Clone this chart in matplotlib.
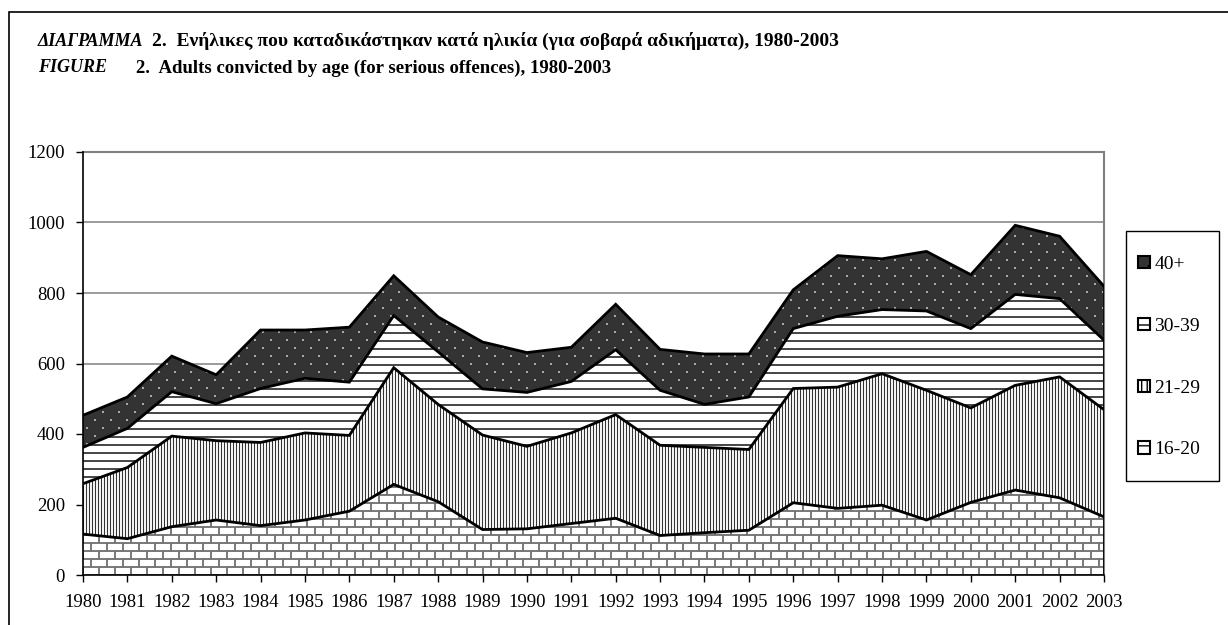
import numpy as np
import matplotlib
matplotlib.use("Agg")
import matplotlib.pyplot as plt
from matplotlib.collections import LineCollection
from matplotlib.patches import Patch, Rectangle

# data
years = list(range(1980, 2004))
age_16_20 = [116, 103, 137, 156, 140, 156, 181, 257, 208, 129, 131, 146,
             161, 112, 120, 127, 205, 189, 198, 156, 206, 241, 219, 165]
age_21_29 = [143, 202, 257, 225, 236, 247, 215, 331, 276, 268, 234, 257,
             294, 256, 242, 229, 324, 344, 373, 368, 268, 297, 343, 304]
age_30_39 = [103, 111, 126, 105, 153, 155, 151, 148, 149, 131, 153, 146,
             184, 156, 122, 149, 170, 201, 182, 225, 225, 258, 222, 197]
age_40 = [91, 89, 101, 82, 166, 137, 156, 113, 99, 133, 113, 97,
          129, 116, 143, 122, 110, 172, 144, 169, 153, 196, 177, 153]
labels = ["16-20", "21-29", "30-39", "40+"]

title_gr = "2.  Ενήλικες που καταδικάστηκαν κατά ηλικία (για σοβαρά αδικήματα), 1980-2003"
title_en = "2.  Adults convicted by age (for serious offences), 1980-2003"

plt.rcParams['font.family'] = ['Liberation Serif', 'DejaVu Serif']

W, H = 1228, 625
fig = plt.figure(figsize=(W / 100, H / 100), dpi=100)
ax = fig.add_axes([83 / W, 1 - 575 / H, (1104 - 83) / W, (575 - 152) / H])

polys = ax.stackplot(years, age_16_20, age_21_29, age_30_39, age_40,
                     colors=["white", "white", "white", "#333333"],
                     linewidth=0, zorder=2)

# pixel size of the axes, used for the fill textures
bb = ax.get_position()
axw, axh = bb.width * W, bb.height * H
px, py = 1 / axw, 1 / axh


def clip_to(artist, poly):
    artist.set_clip_path(poly.get_paths()[0], ax.transData)


# 16-20 : bricks
segs = []
rows = np.arange(0, axh + 8, 8)
for k, y in enumerate(rows):
    segs.append([(0, y * py), (1, y * py)])
    off = 0 if k % 2 == 0 else 8
    for x in np.arange(off, axw + 16, 16):
        segs.append([(x * px, y * py), (x * px, (y + 8) * py)])
lc = LineCollection(segs, colors="#6e6e6e", linewidths=1.3,
                    transform=ax.transAxes, zorder=3)
ax.add_collection(lc)
clip_to(lc, polys[0])

# 21-29 : thin vertical lines
segs = [[(x * px, 0), (x * px, 1)] for x in np.arange(0, axw, 3)]
lc = LineCollection(segs, colors="#333333", linewidths=0.8,
                    transform=ax.transAxes, zorder=3)
ax.add_collection(lc)
clip_to(lc, polys[1])

# 30-39 : horizontal lines
segs = [[(0, y * py), (1, y * py)] for y in np.arange(2, axh, 8)]
lc = LineCollection(segs, colors="#444444", linewidths=1.4,
                    transform=ax.transAxes, zorder=3)
ax.add_collection(lc)
clip_to(lc, polys[2])

# 40+ : dots on dark grey
dx, dy = [], []
for k, y in enumerate(np.arange(3, axh, 8)):
    off = 4 if k % 2 == 0 else 12
    for x in np.arange(off, axw, 16):
        dx.append(x * px)
        dy.append(y * py)
sc = ax.scatter(dx, dy, s=2.4, marker="s", color="#a8a8a8", linewidths=0,
                transform=ax.transAxes, zorder=3)
clip_to(sc, polys[3])

# outlines of the bands
cum = np.cumsum([age_16_20, age_21_29, age_30_39, age_40], axis=0)
for c in cum:
    ax.plot(years, c, color="black", lw=2.0, zorder=4, solid_joinstyle="miter")
ax.vlines(years[-1], 0, cum[-1][-1], color="black", lw=2.0, zorder=4)

ax.set_xlim(years[0], years[-1])
ax.set_ylim(0, 1200)
ax.set_xticks(years)
ax.set_yticks(range(0, 1201, 200))
ax.yaxis.grid(True, color="#808080", lw=1.1)
ax.set_axisbelow(True)
ax.tick_params(axis="both", direction="out", length=5, width=1,
               labelsize=13.5, color="black")
ax.tick_params(axis="x", pad=9)
ax.tick_params(axis="y", pad=8)
for s in ["top", "right"]:
    ax.spines[s].set_color("#808080")
    ax.spines[s].set_linewidth(1.5)
for s in ["left", "bottom"]:
    ax.spines[s].set_color("black")
    ax.spines[s].set_linewidth(1.2)
    ax.spines[s].set_zorder(5)

# legend, with its box drawn separately
fig.patches.append(Rectangle((1126 / W, 1 - 481 / H), 93 / W, 250 / H,
                             fill=False, edgecolor="black", lw=1.0,
                             transform=fig.transFigure, figure=fig))
handles = [Patch(facecolor="#333333", edgecolor="black", hatch=".", lw=1.5),
           Patch(facecolor="white", edgecolor="black", hatch="-", lw=1.5),
           Patch(facecolor="white", edgecolor="black", hatch="|||", lw=1.5),
           Patch(facecolor="white", edgecolor="black", hatch="--", lw=1.5)]
leg = fig.legend(handles, labels[::-1], loc="upper left",
                 bbox_to_anchor=(1138 / W, 1 - 256 / H), borderaxespad=0,
                 fontsize=14, handlelength=0.6, handleheight=0.6,
                 handletextpad=0.25, labelspacing=2.3, borderpad=0,
                 frameon=False)

# titles
fig.text(38 / W, 1 - 41 / H, "ΔΙΑΓΡΑΜΜΑ", fontsize=13, fontweight="bold",
         style="italic", va="center")
fig.text(152 / W, 1 - 41 / H, title_gr, fontsize=14, fontweight="bold",
         va="center")
fig.text(38 / W, 1 - 68 / H, "FIGURE", fontsize=13, fontweight="bold",
         style="italic", va="center")
fig.text(136 / W, 1 - 68 / H, title_en, fontsize=13.5, fontweight="bold",
         va="center")

# outer frame of the figure
fig.patches.append(Rectangle((9 / W, -0.1), 2, 1 - 12 / H + 0.1, fill=False,
                             edgecolor="black", lw=1.2,
                             transform=fig.transFigure, figure=fig))

fig.savefig("out.png", dpi=100)
